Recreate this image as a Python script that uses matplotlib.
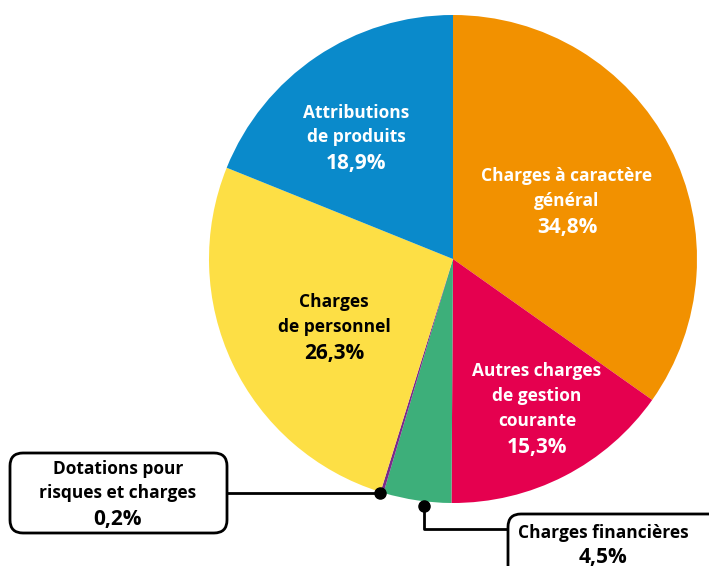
import matplotlib
matplotlib.use("Agg")
import matplotlib.pyplot as plt
from matplotlib.patches import FancyBboxPatch

labels = ["Charges à caractère\ngénéral", "Autres charges\nde gestion\ncourante",
          "Charges financières", "Dotations pour\nrisques et charges",
          "Charges\nde personnel", "Attributions\nde produits"]
values = [34.8, 15.3, 4.5, 0.2, 26.3, 18.9]
pct_text = ["34,8%", "15,3%", "4,5%", "0,2%", "26,3%", "18,9%"]
colors = ["#F29100", "#E5004F", "#3DAF7A", "#7B2A8A", "#FDDF45", "#0A8ACB"]
text_colors = ["white", "white", "black", "black", "black", "white"]

W, H = 709, 566
fig = plt.figure(figsize=(W/100, H/100), dpi=100)
ax = fig.add_axes([0, 0, 1, 1])

cx, cy, R = 453, H - 259, 244
ax.pie(values, colors=colors, startangle=90, counterclock=False,
       center=(cx, cy), radius=R, frame=True,
       wedgeprops=dict(linewidth=0))
ax.set_xlim(0, W)
ax.set_ylim(0, H)
ax.set_aspect("equal")
ax.axis("off")

FS_L, FS_P = 12.5, 15
FAM = "Open Sans"

inside = [(0, 567, 176, 25), (1, 537, 371, 25), (4, 334, 302, 25), (5, 356, 113, 24)]
for i, x, y0, lh in inside:
    lines = labels[i].split("\n")
    for k, t in enumerate(lines):
        ax.text(x, H - (y0 + k*lh), t, ha="center", va="center",
                color=text_colors[i], family=FAM, weight="bold", fontsize=FS_L)
    ax.text(x, H - (y0 + len(lines)*lh + 2), pct_text[i], ha="center", va="center",
            color=text_colors[i], family=FAM, weight="bold", fontsize=FS_P)

def box(x0, y0, x1, y1):
    p = FancyBboxPatch((x0, H - y1), x1 - x0, y1 - y0,
                       boxstyle="round,pad=0,rounding_size=13",
                       fc="white", ec="black", lw=2, zorder=5)
    ax.add_patch(p)

# Dotations
box(10, 453, 227, 533)
ax.plot([227, 380], [H-493, H-493], color="black", lw=2, zorder=4)
ax.plot([380], [H-493], "o", color="black", ms=8, zorder=6)
dl = labels[3].split("\n")
for k, t in enumerate(dl):
    ax.text(118, H - (469 + k*24), t, ha="center", va="center",
            color="black", family=FAM, weight="bold", fontsize=FS_L, zorder=7)
ax.text(118, H - 520, pct_text[3], ha="center", va="center",
        color="black", family=FAM, weight="bold", fontsize=FS_P, zorder=7)

# Charges financières
box(508, 514, 740, 600)
ax.plot([424, 424, 508], [H-506, H-529, H-529], color="black", lw=2, zorder=4)
ax.plot([424], [H-506], "o", color="black", ms=8, zorder=6)
ax.text(603, H-533, labels[2], ha="center", va="center",
        color="black", family=FAM, weight="bold", fontsize=FS_L, zorder=7)
ax.text(603, H-558, pct_text[2], ha="center", va="center",
        color="black", family=FAM, weight="bold", fontsize=FS_P, zorder=7)

fig.savefig("out.png", dpi=100)
